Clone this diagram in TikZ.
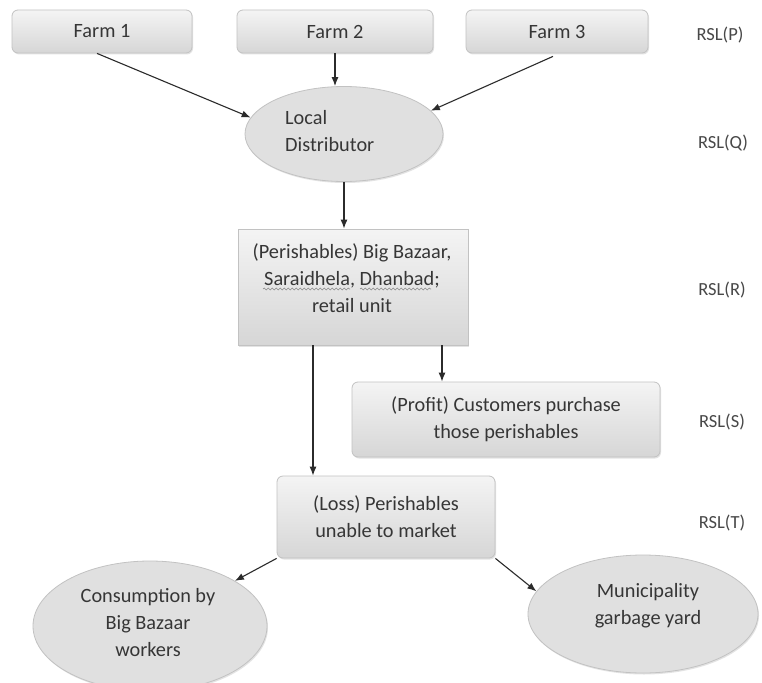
\documentclass[tikz,border=0pt]{standalone}
\usepackage{fontspec}
\setmainfont{Carlito}
\usetikzlibrary{arrows.meta,shapes.geometric,shadows,decorations.pathmorphing}
\definecolor{txt}{HTML}{363636}
\definecolor{boxtop}{HTML}{F4F4F4}
\definecolor{boxbot}{HTML}{D6D6D6}
\definecolor{bord}{HTML}{C2C2C2}
\definecolor{ovalfill}{HTML}{E0E0E0}
\definecolor{arrcol}{HTML}{2B2B2B}
\definecolor{rslcol}{HTML}{484848}
\definecolor{wavegray}{HTML}{8A8A8A}
\tikzset{
  mainfont/.style={font=\fontsize{20.3}{27}\selectfont, text=txt},
  box/.style={mainfont, draw=bord, line width=0.8pt, rounded corners=6pt,
    top color=boxtop, bottom color=boxbot, inner sep=0pt, align=center,
    drop shadow={opacity=0.22, shadow xshift=1pt, shadow yshift=-1.5pt}},
  oval/.style={ellipse, draw=bord, line width=0.8pt, fill=ovalfill, inner sep=0pt,
    drop shadow={opacity=0.22, shadow xshift=1pt, shadow yshift=-1.5pt}},
  txtnode/.style={mainfont, inner sep=0pt, align=center},
  rsl/.style={font=\fontsize{18.5}{20}\selectfont, text=rslcol, inner sep=0pt},
  arr/.style={draw=arrcol, line width=1.1pt, -{Latex[length=9pt,width=7pt]}},
  squig/.style={draw=wavegray, line width=0.6pt, decorate,
    decoration={snake, segment length=4pt, amplitude=0.9pt}}
}
\begin{document}
\begin{tikzpicture}[x=1pt,y=-1pt]
\useasboundingbox[fill=white] (0,0) rectangle (762,682);

% boxes
\node[box, minimum width=180pt, minimum height=43pt] (f1) at (102,31.5) {Farm 1};
\node[box, minimum width=196pt, minimum height=43pt] (f2) at (335,31.5) {Farm 2};
\node[box, minimum width=182pt, minimum height=43pt] (f3) at (557,31.5) {Farm 3};

\node[oval, minimum width=198pt, minimum height=95pt] (ld) at (344,134) {};
\node[txtnode, align=left, anchor=west] (ldt) at (285,131.5) {Local\\Distributor};

\node[box, sharp corners, minimum width=230pt, minimum height=116pt] (bb) at (353,287) {};
\node[txtnode] (bbt) at (352,278) {(Perishables) Big Bazaar,\\Saraidhela, Dhanbad;\\retail unit};
\draw[squig] (263,289) -- (350,289);
\draw[squig] (360,289) -- (431,289);

\node[box, minimum width=308pt, minimum height=75pt] (pr) at (506,419.5) {(Profit) Customers purchase\\those perishables};

\node[box, minimum width=218pt, minimum height=82pt] (lo) at (386,517) {(Loss) Perishables\\unable to market};

\node[oval, minimum width=234pt, minimum height=130pt] (co) at (150,626) {};
\node[txtnode] (cot) at (148,623) {Consumption by\\Big Bazaar\\workers};

\node[oval, minimum width=230pt, minimum height=118pt] (mu) at (643,614) {};
\node[txtnode] (mut) at (648,606) {Municipality\\garbage yard};

% RSL labels
\node[rsl] (rp) at (720,35) {RSL(P)};
\node[rsl] (rq) at (723,143) {RSL(Q)};
\node[rsl] (rr) at (722,290) {RSL(R)};
\node[rsl] (rs) at (722,422) {RSL(S)};
\node[rsl] (rt) at (722,523) {RSL(T)};

% connectors
\draw[arr] ([xshift=-5pt]f1.south) -- (ld.170);
\draw[arr] (f2.south) -- (f2.south |- ld.north);
\draw[arr] ([xshift=-4pt,yshift=-3pt]f3.south) -- (ld.15);
\draw[arr] (ld.south) -- (ld.south |- bb.north);
\draw[arr] ([xshift=-40pt]bb.south) -- ([xshift=-40pt]bb.south |- lo.north);
\draw[arr] ([xshift=89pt]bb.south) -- ([xshift=89pt]bb.south |- pr.north);
\draw[arr] (lo.south west) -- (co.28);
\draw[arr] (lo.south east) -- (mu.168);
\end{tikzpicture}
\end{document}
